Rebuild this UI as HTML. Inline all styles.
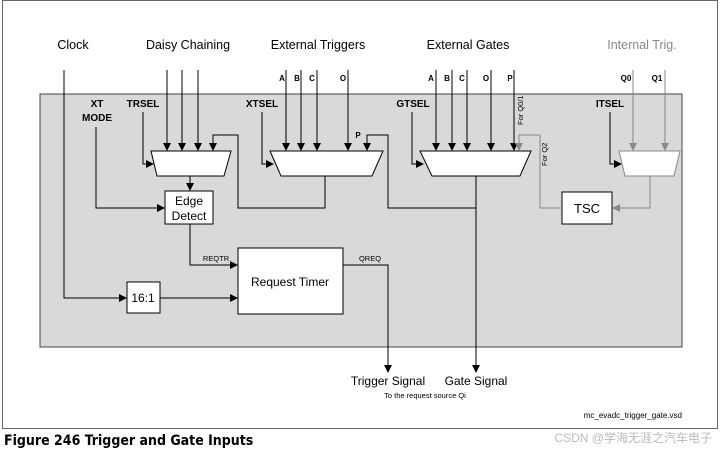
<!DOCTYPE html>
<html><head><meta charset="utf-8"><style>
body{margin:0;background:#fff;}
svg{display:block;font-family:"Liberation Sans",sans-serif;}
</style></head><body>
<svg width="720" height="450" viewBox="0 0 720 450">
<defs>
<marker id="a" markerWidth="8" markerHeight="8" refX="7" refY="4" orient="auto" markerUnits="userSpaceOnUse"><path d="M0,0 L8,4 L0,8z" fill="#000"/></marker>
<marker id="g" markerWidth="8" markerHeight="8" refX="7" refY="4" orient="auto" markerUnits="userSpaceOnUse"><path d="M0,0 L8,4 L0,8z" fill="#888"/></marker>
</defs>
<rect x="2.5" y="0.5" width="715" height="428" fill="#fff" stroke="#666" stroke-width="1"/>
<rect x="40" y="94" width="642" height="253" fill="#d9d9d9" stroke="#444" stroke-width="1"/>
<g font-size="12.5" text-anchor="middle">
<text x="73" y="49">Clock</text>
<text x="188" y="49">Daisy Chaining</text>
<text x="318" y="49">External Triggers</text>
<text x="468" y="49">External Gates</text>
<text x="642" y="49" fill="#888">Internal Trig.</text>
</g>
<g font-size="8" font-weight="bold" text-anchor="middle">
<text x="282" y="81">A</text><text x="297" y="81">B</text><text x="312" y="81">C</text><text x="343" y="81">O</text>
<text x="431" y="81">A</text><text x="447" y="81">B</text><text x="462" y="81">C</text><text x="486" y="81">O</text><text x="510" y="81">P</text>
<text x="626" y="81">Q0</text><text x="657" y="81">Q1</text>
<text x="358" y="138">P</text>
</g>
<g font-size="10" font-weight="bold" text-anchor="middle">
<text x="97" y="107">XT</text><text x="97" y="121">MODE</text>
<text x="143" y="107">TRSEL</text>
<text x="262" y="107">XTSEL</text>
<text x="413" y="107">GTSEL</text>
<text x="610" y="107">ITSEL</text>
</g>
<g fill="#fff" stroke="#000" stroke-width="1">
<path d="M151,151 L231,151 L224,176 L157,176z"/>
<path d="M270,151 L383,151 L372,176 L281,176z"/>
<path d="M420,151 L531,151 L520,176 L432,176z"/>
<path d="M619,151 L680,151 L674,176 L625,176z" stroke="#888"/>
<rect x="165" y="191" width="48" height="33"/>
<rect x="238" y="248" width="105" height="66"/>
<rect x="127" y="282" width="33" height="31"/>
<rect x="562" y="192" width="50" height="32"/>
</g>
<g font-size="12" text-anchor="middle">
<text x="189" y="205">Edge</text><text x="189" y="220">Detect</text>
<text x="290" y="286">Request Timer</text>
<text x="143" y="302">16:1</text>
<text x="587" y="213" font-size="13">TSC</text>
<text x="388" y="385">Trigger Signal</text>
<text x="476" y="385">Gate Signal</text>
</g>
<g font-size="7.5" text-anchor="middle">
<text x="216" y="261">REQTR</text><text x="370" y="261">QREQ</text>
<text x="425" y="398">To the request source Qi</text>
<text x="682" y="418" text-anchor="end" font-size="8">mc_evadc_trigger_gate.vsd</text>
<text transform="translate(523,125) rotate(-90)" text-anchor="start">For Q0/1</text>
<text transform="translate(547,166) rotate(-90)" text-anchor="start">For Q2</text>
</g>
<g fill="none" stroke="#000" stroke-width="1" marker-end="url(#a)">
<path d="M64,70 V298 H126"/>
<path d="M160,298 H237"/>
<path d="M96,127 V208 H164"/>
<path d="M143,112 V164 H153"/>
<path d="M167,70 V150"/><path d="M182,70 V150"/><path d="M198,70 V150"/>
<path d="M325,176 V208 H238 V135 H213 V150"/>
<path d="M190,176 V190"/>
<path d="M190,224 V265 H237"/>
<path d="M262,112 V164 H273"/>
<path d="M286,70 V150"/><path d="M301,70 V150"/><path d="M317,70 V150"/><path d="M348,70 V150"/>
<path d="M476,176 V208 H388 V135 H367 V150"/>
<path d="M476,208 V372"/>
<path d="M412,112 V164 H423"/>
<path d="M436,70 V150"/><path d="M452,70 V150"/><path d="M467,70 V150"/><path d="M491,70 V150"/><path d="M514,70 V150"/>
<path d="M343,265 H388 V372"/>
<path d="M610,112 V164 H621"/>
</g>
<g fill="none" stroke="#888" stroke-width="1" marker-end="url(#g)">
<path d="M633,70 V150"/><path d="M665,70 V150"/>
<path d="M650,176 V208 H613"/>
<path d="M562,208 H540 V135 H519 V150"/>
</g>
<text x="4" y="445" font-size="14" font-weight="bold" font-family="'DejaVu Sans Condensed','Liberation Sans Narrow','Liberation Sans',sans-serif">Figure 246  Trigger and Gate Inputs</text>
<text x="712" y="442" font-size="12" fill="#bbb" text-anchor="end" font-family="'Liberation Sans','Noto Sans CJK SC',sans-serif">CSDN @学海无涯之汽车电子</text>
</svg>
</body></html>
